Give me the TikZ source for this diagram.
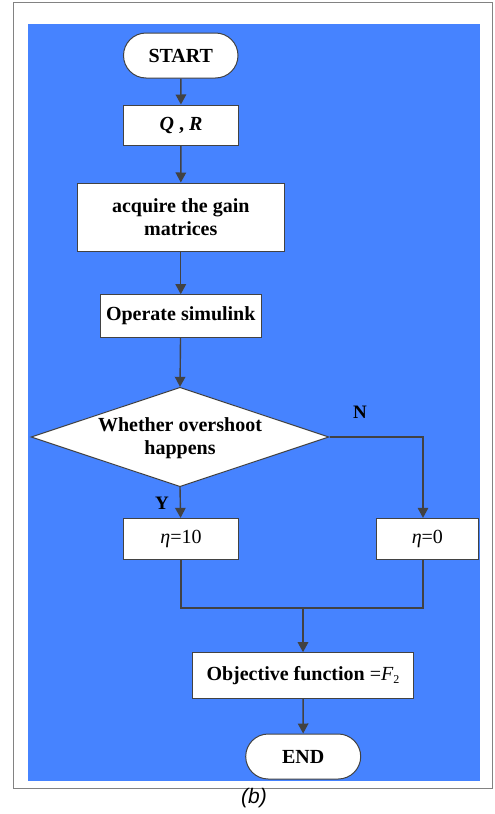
\documentclass[tikz,border=0pt]{standalone}
\usepackage{fontspec}
\setmainfont{Liberation Serif}
\newfontfamily\capfont{Liberation Sans}
\usetikzlibrary{shapes.geometric,shapes.misc,arrows.meta}
\definecolor{bgblue}{RGB}{70,131,255}
\definecolor{edge}{RGB}{66,66,66}
\definecolor{framegray}{RGB}{130,130,130}
\begin{document}
\begin{tikzpicture}[x=1pt,y=-1pt,
  every node/.style={font=\fontsize{20}{22.5}\selectfont},
  box/.style={draw=edge,line width=1pt,fill=white,inner sep=0pt,align=center,font=\fontsize{20}{22.5}\selectfont\bfseries},
  term/.style={box,rounded rectangle},
  conn/.style={draw=edge,line width=1.4pt},
  arr/.style={conn,-{Triangle[length=10pt,width=10.5pt]}},
  lbl/.style={font=\fontsize{19}{20}\selectfont\bfseries,inner sep=0pt}
]
\useasboundingbox (0,0) rectangle (495,814);
\draw[framegray,line width=1pt,fill=white] (13,2) rectangle (492,788);
\fill[bgblue] (28,24) rectangle (480,781);

\node[term,minimum width=114.5pt,minimum height=45pt] (start) at (180.75,55.5) {START};
\node[box,minimum width=115pt,minimum height=40pt] (qr) at (181,125) {\textit{Q} , \textit{R}};
\node[box,minimum width=207.5pt,minimum height=68pt] (acq) at (180.75,217) {acquire the gain\\matrices};
\node[box,minimum width=160.5pt,minimum height=42.6pt] (op) at (180.75,316) {Operate simulink};
\node[draw=edge,line width=1pt,fill=white,diamond,inner sep=0pt,minimum width=298pt,minimum height=99.4pt] (dec) at (180,437) {};
\node[align=center,font=\fontsize{20}{22.5}\selectfont\bfseries,inner sep=0pt] (dectext) at (180,438) {Whether overshoot\\happens};
\node[box,font=\fontsize{20}{22.5}\selectfont,minimum width=115pt,minimum height=40.7pt] (e10) at (181,538.7) {\textit{η}=10};
\node[box,font=\fontsize{20}{22.5}\selectfont,minimum width=101.3pt,minimum height=40.7pt] (e0) at (427.35,538.7) {\textit{η}=0};
\node[box,minimum width=221.4pt,minimum height=45.6pt] (obj) at (303,675.5) {Objective function \mdseries=\textit{F}\raisebox{-0.3ex}{\fontsize{12}{12}\selectfont 2}};
\node[term,minimum width=115pt,minimum height=45pt] (end) at (303.2,756.5) {END};

\node[lbl] (nlab) at (360,412) {N};
\node[lbl] (ylab) at (162,503) {Y};
\node[font=\capfont\itshape\fontsize{21}{22}\selectfont,inner sep=0pt] (cap) at (254,798) {(b)};

\coordinate (nturn) at (423,437);
\coordinate (mL) at (181,608);
\coordinate (mR) at (423,608);
\coordinate (mM) at (303,608);

\draw[arr] (start) -- (qr);
\draw[arr] (qr) -- (acq);
\draw[arr] (acq) -- (op);
\draw[arr] (op) -- (dec.north);
\draw[arr] (dec.south) -- (e10);
\draw[arr] (dec.east) -- (nturn) -- (nturn |- e0.north);
\draw[conn] (e10.south) -- (mL) -- (mR) -- (mR |- e0.south);
\draw[arr] (mM) -- (obj);
\draw[arr] (obj) -- (end);
\end{tikzpicture}
\end{document}
